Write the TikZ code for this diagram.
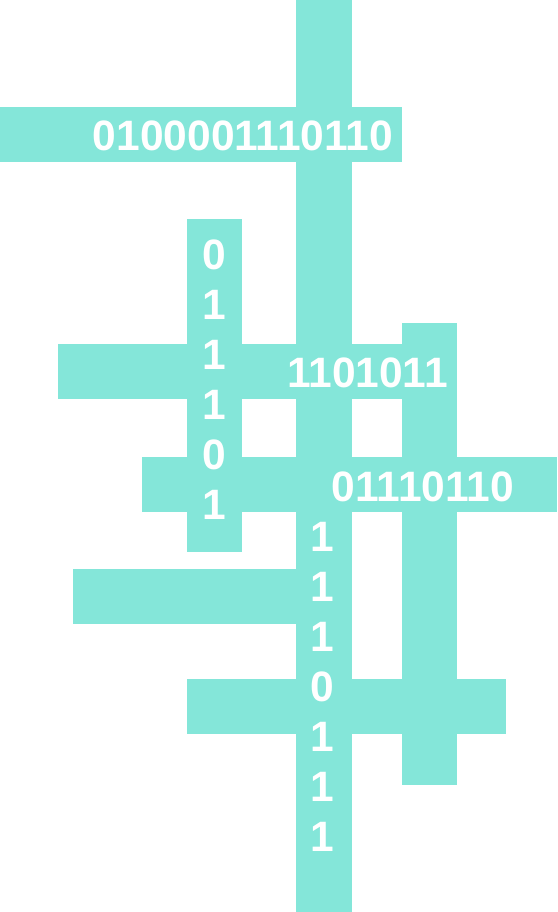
\documentclass[tikz,border=0pt]{standalone}
\usepackage{fontspec}
\setmainfont{Liberation Sans}
\definecolor{bar}{RGB}{132,230,217}
\tikzset{
  bit/.style={text=white, inner sep=0pt, font=\bfseries\fontsize{42.5}{42.5}\selectfont},
}
\begin{document}
\begin{tikzpicture}[x=1pt,y=-1pt]
            \useasboundingbox (0,0) rectangle (557,912);

            \fill[bar] (296,0) rectangle (352,912);
            \fill[bar] (187,219) rectangle (242,552);
            \fill[bar] (402,323) rectangle (457,785);
            \fill[bar] (0,107) rectangle (402,162);
            \fill[bar] (58,344) rectangle (457,399);
            \fill[bar] (142,457) rectangle (557,512);
            \fill[bar] (73,569) rectangle (296,624);
            \fill[bar] (187,679) rectangle (506,734);

            \node[bit] (row-1) at (243,136) {0100001110110};
            \node[bit] (row-2) at (367.5,373) {1101011};
            \node[bit] (row-3) at (423,487) {01110110};

            \node[bit] (left-1) at (214,255) {0};
            \node[bit] (left-2) at (214,305) {1};
            \node[bit] (left-3) at (214,355) {1};
            \node[bit] (left-4) at (214,405) {1};
            \node[bit] (left-5) at (214,455) {0};
            \node[bit] (left-6) at (214,505) {1};

            \node[bit] (mid-1) at (322,537) {1};
            \node[bit] (mid-2) at (322,587) {1};
            \node[bit] (mid-3) at (322,637) {1};
            \node[bit] (mid-4) at (322,687) {0};
            \node[bit] (mid-5) at (322,737) {1};
            \node[bit] (mid-6) at (322,787) {1};
            \node[bit] (mid-7) at (322,837) {1};
        \end{tikzpicture}
\end{document}
